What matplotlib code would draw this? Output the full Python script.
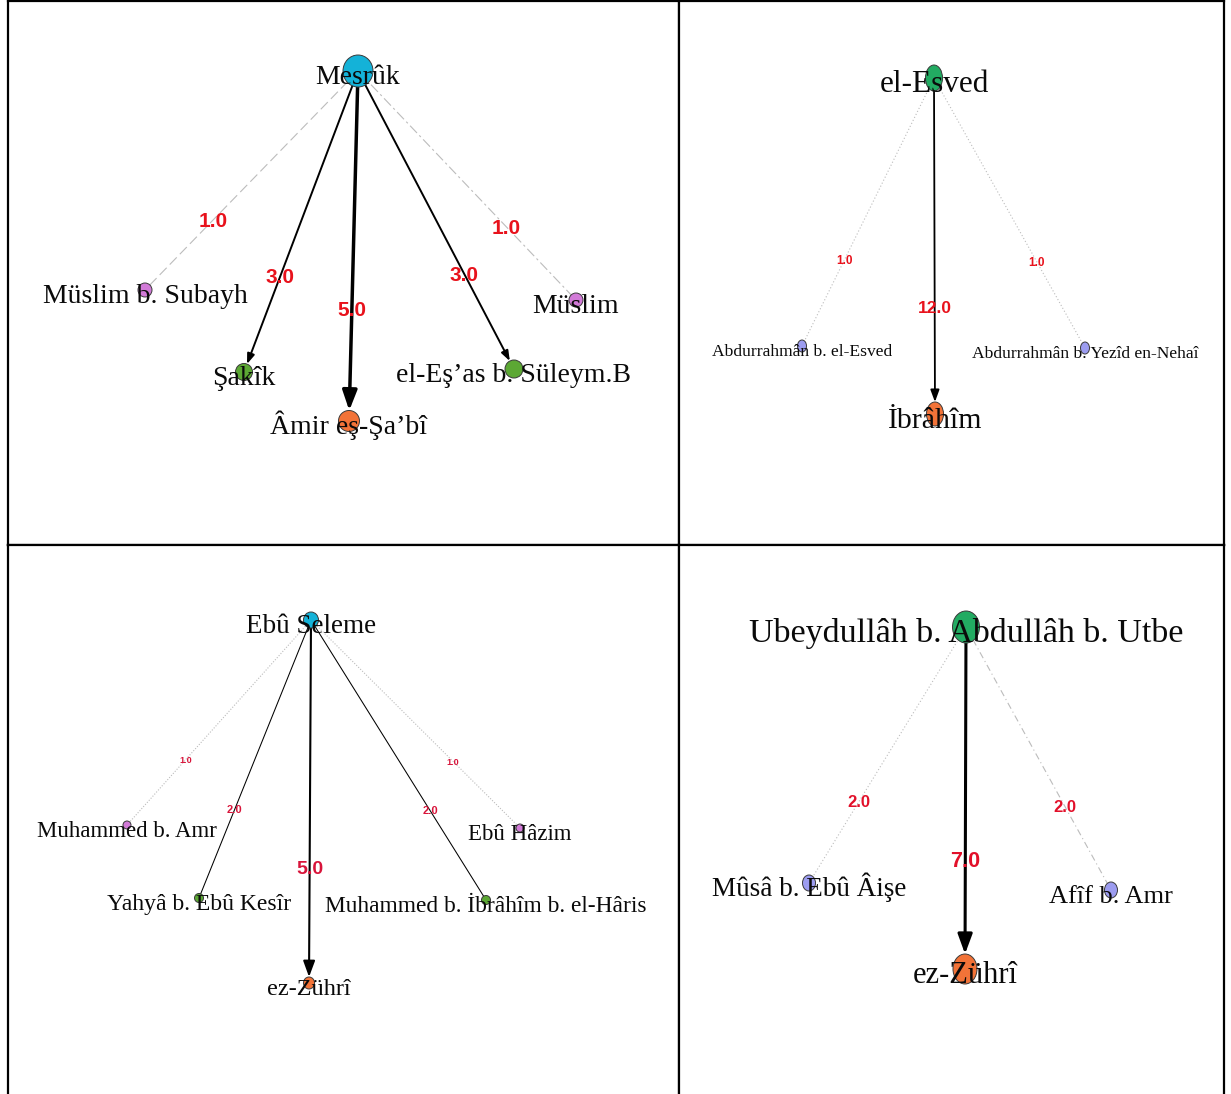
import matplotlib.pyplot as plt
from matplotlib.patches import Ellipse, FancyArrowPatch

# =====================================================
# Veri: her panelde kaynak ravi, ondan rivayet edenler ve agirliklar
# =====================================================
p1_kaynak = "Mesrûk"
p1_ravi = ["Müslim b. Subayh", "Şakîk", "Âmir eş-Şa’bî", "el-Eş’as b. Süleym.B", "Müslim"]
p1_agirlik = [1.0, 3.0, 5.0, 3.0, 1.0]

p2_kaynak = "el-Esved"
p2_ravi = ["Abdurrahmân b. el-Esved", "İbrâhîm", "Abdurrahmân b. Yezîd en-Nehaî"]
p2_agirlik = [1.0, 12.0, 1.0]

p3_kaynak = "Ebû Seleme"
p3_ravi = ["Muhammed b. Amr", "Yahyâ b. Ebû Kesîr", "ez-Zührî",
           "Muhammed b. İbrâhîm b. el-Hâris", "Ebû Hâzim"]
p3_agirlik = [1.0, 2.0, 5.0, 2.0, 1.0]

p4_kaynak = "Ubeydullâh b. Abdullâh b. Utbe"
p4_ravi = ["Mûsâ b. Ebû Âişe", "ez-Zührî", "Afîf b. Amr"]
p4_agirlik = [2.0, 7.0, 2.0]

# =====================================================
# Yerlesim (piksel, kaynak ilk sirada) ve stiller
# =====================================================
W, H = 1231, 1094
panel_kutu = [(8, 1, 679, 545), (679, 1, 1224, 545), (8, 545, 679, 1094), (679, 545, 1224, 1094)]

p1_konum = [(358, 71), (145, 290), (244, 372), (349, 421), (514, 369), (576, 300)]
p2_konum = [(934, 78), (802, 346), (935, 414), (1085, 348)]
p3_konum = [(311, 620), (127, 825), (199, 898), (309, 983), (486, 900), (520, 828)]
p4_konum = [(966, 627), (809, 883), (965, 969), (1111, 890)]

MAVI, MOR, YESIL, TURUNCU = "#14b2d8", "#d27ad8", "#5ca834", "#f27338"
KOYU_YESIL, LAVANTA = "#22ab62", "#9c9cf0"

p1_renk = [MAVI, MOR, YESIL, TURUNCU, YESIL, MOR]
p2_renk = [KOYU_YESIL, LAVANTA, TURUNCU, LAVANTA]
p3_renk = [MAVI, MOR, YESIL, TURUNCU, YESIL, MOR]
p4_renk = [KOYU_YESIL, LAVANTA, TURUNCU, LAVANTA]

p1_yaricap = [(15, 16), (7, 7), (8.5, 8.5), (10.5, 10.5), (9, 9), (7, 7)]
p2_yaricap = [(8.5, 13), (4.5, 6), (8.5, 12), (4.5, 6)]
p3_yaricap = [(7.5, 8), (4, 4), (4.5, 4.5), (5.5, 6), (4.5, 4.5), (4, 4)]
p4_yaricap = [(13.5, 16), (6.5, 8), (12, 15), (6.5, 8)]

p1_yazi = [20, 20, 20, 20, 20, 20]
p2_yazi = [22.5, 12.6, 21.5, 12.6]
p3_yazi = [19.5, 16.5, 17, 17.5, 16.8, 16.5]
p4_yazi = [24.5, 19.5, 22, 19]

GRI = "#bcbcbc"
def gri(ls):
    return dict(ok=False, c=GRI, lw=0.8, ls=ls)

def siyah(lw, ms=None):
    return dict(ok=ms is not None, c="black", lw=lw, ls="-", ms=ms)

p1_kenar = [gri((0, (9, 4))), siyah(1.4, 10), siyah(2.5, 20), siyah(1.4, 10), gri((0, (9, 3, 2, 3)))]
p2_kenar = [gri((0, (1, 2))), siyah(1.3, 12), gri((0, (1, 2)))]
p3_kenar = [gri((0, (1, 1.5))), siyah(0.75), siyah(1.5, 16), siyah(0.75), gri((0, (1, 1.5)))]
p4_kenar = [gri((0, (1, 2))), siyah(2.2, 20), gri((0, (6, 3, 1, 3)))]

p1_sayi = [15, 15, 15, 15, 15]
p2_sayi = [8.5, 12.5, 8.5]
p3_sayi = [6.5, 8, 14, 8, 6.5]
p4_sayi = [12, 15.5, 12]

SAYI_RENK = ["#e8121c", "#e8121c", "#d8143a", "#e2102a"]


def ciz_panel(ax, kaynak, ravi, agirlik, konum, renk, yaricap, yazi, kenar, sayi, sayi_renk):
    adlar = [kaynak] + ravi
    x0, y0 = konum[0]
    for i, w in enumerate(agirlik, start=1):
        x1, y1 = konum[i]
        st = kenar[i - 1]
        if st["ok"]:
            ok = FancyArrowPatch((x0, y0), (x1, y1),
                                 arrowstyle="-|>,head_length=0.6,head_width=0.22",
                                 mutation_scale=st["ms"], lw=st["lw"], color=st["c"],
                                 shrinkA=yaricap[0][1] * 0.72, shrinkB=yaricap[i][1] * 0.72,
                                 zorder=1)
            ax.add_patch(ok)
        else:
            ax.plot([x0, x1], [y0, y1], color=st["c"], lw=st["lw"], ls=st["ls"], zorder=1)
        # agirlik etiketi kenarin ~%68'inde
        lx = x0 + 0.68 * (x1 - x0)
        ly = y0 + 0.68 * (y1 - y0)
        px = sayi[i - 1] / 0.72
        ax.text(lx, ly + 0.36 * px, f"{w:.1f}", ha="center", va="baseline",
                fontsize=sayi[i - 1], fontweight="bold", color=sayi_renk,
                family="Liberation Sans", zorder=4)
    for i, ad in enumerate(adlar):
        x, y = konum[i]
        rx, ry = yaricap[i]
        ax.add_patch(Ellipse((x, y), 2 * rx, 2 * ry, facecolor=renk[i],
                             edgecolor="#3a3a3a", lw=0.7, zorder=2))
        px = yazi[i] / 0.72
        ax.text(x, y + 4 + 0.33 * px, ad, ha="center", va="baseline",
                fontsize=yazi[i], family="Liberation Serif", color="#0a0a0a", zorder=3)


fig = plt.figure(figsize=(W / 100, H / 100), dpi=100)

paneller = [
    (p1_kaynak, p1_ravi, p1_agirlik, p1_konum, p1_renk, p1_yaricap, p1_yazi, p1_kenar, p1_sayi),
    (p2_kaynak, p2_ravi, p2_agirlik, p2_konum, p2_renk, p2_yaricap, p2_yazi, p2_kenar, p2_sayi),
    (p3_kaynak, p3_ravi, p3_agirlik, p3_konum, p3_renk, p3_yaricap, p3_yazi, p3_kenar, p3_sayi),
    (p4_kaynak, p4_ravi, p4_agirlik, p4_konum, p4_renk, p4_yaricap, p4_yazi, p4_kenar, p4_sayi),
]

for k, (kutu, p) in enumerate(zip(panel_kutu, paneller)):
    bx0, by0, bx1, by1 = kutu
    ax = fig.add_axes([bx0 / W, 1 - by1 / H, (bx1 - bx0) / W, (by1 - by0) / H])
    ax.set_xlim(bx0, bx1)
    ax.set_ylim(by1, by0)
    ax.set_xticks([])
    ax.set_yticks([])
    for s in ax.spines.values():
        s.set_linewidth(1.6)
        s.set_color("black")
    if k >= 2:
        ax.spines["bottom"].set_visible(False)
    ciz_panel(ax, *p, SAYI_RENK[k])

plt.savefig("out.png", dpi=100)
plt.close()
